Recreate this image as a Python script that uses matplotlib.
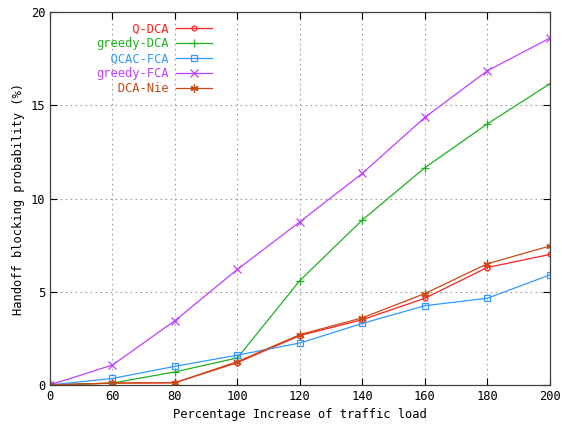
import numpy as np
import matplotlib
matplotlib.use("Agg")
import matplotlib.pyplot as plt

# traffic load increase (%) - plotted at equally spaced positions
loads = ["0", "60", "80", "100", "120", "140", "160", "180", "200"]

q_dca = [0, 0.1, 0.12, 1.2, 2.65, 3.5, 4.65, 6.3, 7.0]
greedy_dca = [0, 0.1, 0.7, 1.45, 5.6, 8.85, 11.65, 14.0, 16.15]
qcac_fca = [0, 0.35, 1.0, 1.6, 2.25, 3.3, 4.25, 4.65, 5.9]
greedy_fca = [0, 1.07, 3.45, 6.2, 8.75, 11.35, 14.35, 16.85, 18.6]
dca_nie = [0, 0.1, 0.12, 1.25, 2.7, 3.6, 4.9, 6.5, 7.45]

names = ["Q-DCA", "greedy-DCA", "QCAC-FCA", "greedy-FCA", "DCA-Nie"]

plt.rcParams['font.family'] = ['DejaVu Sans Mono']
plt.rcParams['font.size'] = 8.7

fig = plt.figure(figsize=(5.62, 4.34), dpi=100)
ax = fig.add_axes([0.089, 0.113, 0.889, 0.859])

x = np.arange(len(loads))
series = [
    (q_dca, "#ff2020", dict(marker="o", ms=3.5, mfc="none")),
    (greedy_dca, "#20b020", dict(marker="+", ms=6)),
    (qcac_fca, "#3399ff", dict(marker="s", ms=5, mfc="none")),
    (greedy_fca, "#c040ff", dict(marker="x", ms=5.5)),
    (dca_nie, "#c84a14", dict(marker=(6, 2, 0), ms=6)),
]
width = max(len(n) for n in names)
for (vals, col, mk), name in zip(series, names):
    ax.plot(x, vals, color=col, lw=0.9, mec=col, mew=0.9, label=name.rjust(width), **mk)

ax.set_xlim(0, len(loads) - 1)
ax.set_ylim(0, 20)
ax.set_xticks(x)
ax.set_xticklabels(loads)
ax.set_yticks([0, 5, 10, 15, 20])
ax.tick_params(direction="in", top=True, right=True, length=5, width=0.8)
ax.grid(True, color="#a0a0a0", linestyle=(0, (1.5, 3)), lw=0.8)
for s in ax.spines.values():
    s.set_linewidth(0.9)
    s.set_color("#404040")

ax.set_xlabel("Percentage Increase of traffic load")
ax.set_ylabel("Handoff blocking probability (%)")

leg = ax.legend(loc="upper left", bbox_to_anchor=(0.082, 0.985), frameon=False,
                markerfirst=False, handlelength=3.0, labelspacing=0.15,
                handletextpad=0.6, borderaxespad=0)
for t, (vals, col, mk) in zip(leg.get_texts(), series):
    t.set_color(col)

fig.savefig("out.png", dpi=100)
